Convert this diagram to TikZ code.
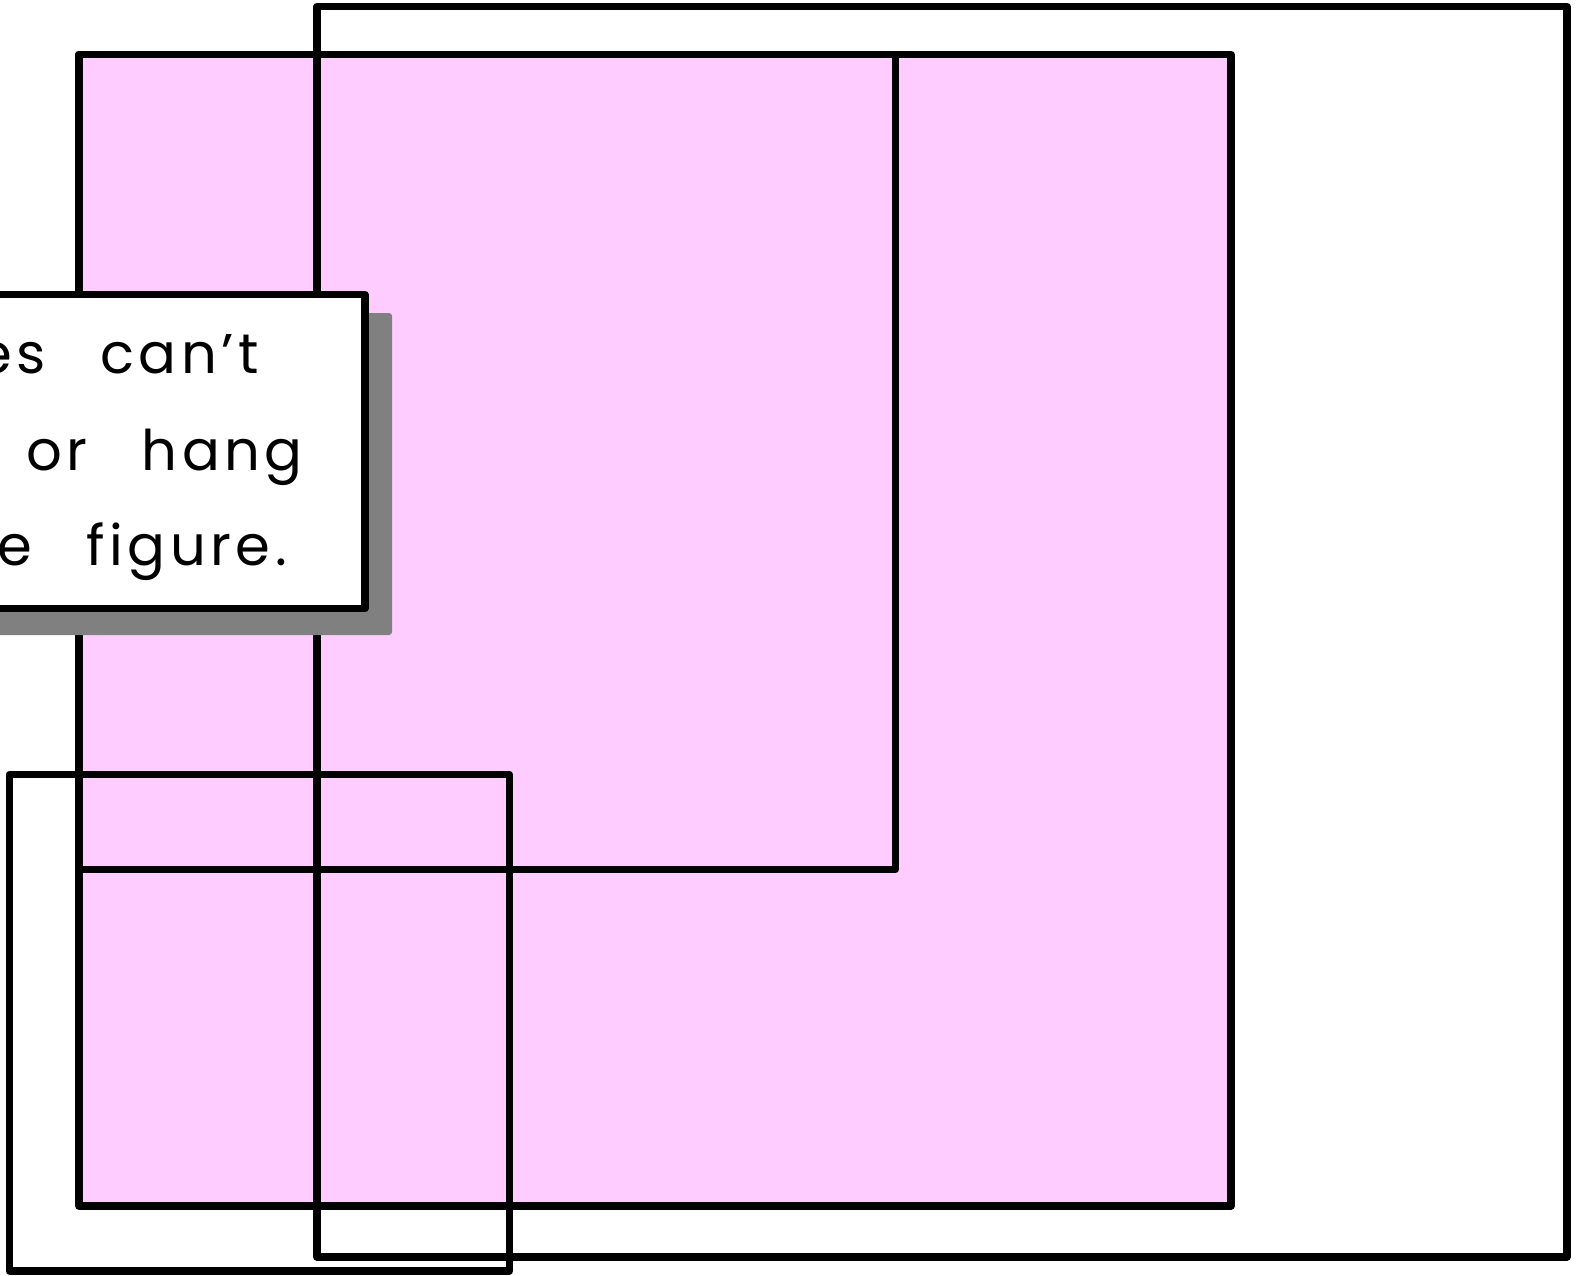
\documentclass[tikz,border=0pt]{standalone}
\usepackage{fontspec}
\setmainfont{Poppins}[LetterSpace=8, WordSpace=2.8]
\definecolor{pinkfill}{RGB}{255,204,255}
\definecolor{shadowgray}{RGB}{128,128,128}
\tikzset{
  frame/.style={draw=black, line width=7.3pt, line join=round},
  label/.style={font=\fontsize{56}{60}\selectfont, inner sep=0pt, text=black}
}
\begin{document}
\begin{tikzpicture}[x=1pt,y=-1pt]
\useasboundingbox (0,0) rectangle (1583,1275);
% pink rectangle
\draw[frame, fill=pinkfill] (79,54.5) rectangle (1231,1206);
% inner outline
\draw[frame] (79,54.5) rectangle (895.5,869.5);
% bottom-left outline
\draw[frame] (9.5,774.5) rectangle (509.5,1271);
% big outline
\draw[frame] (317,6.5) rectangle (1567,1257);
% shadow
\fill[shadowgray, rounded corners=3pt] (-200,313) rectangle (392,635);
% text box
\draw[frame, fill=white] (-200,294.5) rectangle (365,608.5);
\node[label, anchor=base east] (l1) at (259,373) {es can’t};
\node[label, anchor=base east] (l2) at (303,470) {or hang};
\node[label, anchor=base east] (l3) at (287,565) {e figure.};
\end{tikzpicture}
\end{document}
